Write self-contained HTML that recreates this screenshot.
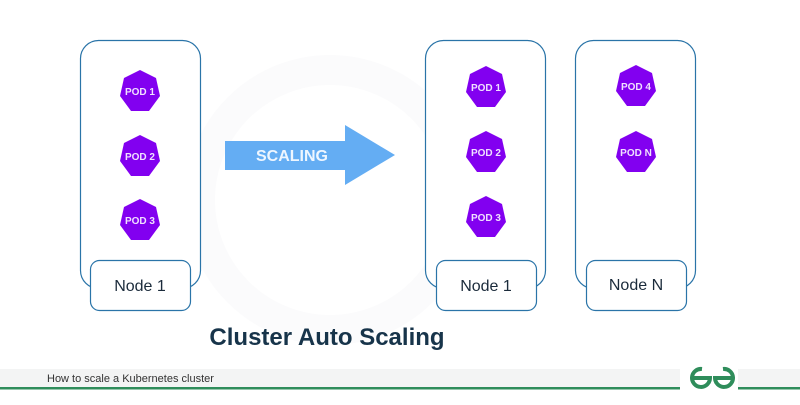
<!DOCTYPE html>
<html><head><style>
body{margin:0;width:800px;height:400px;background:#fff;overflow:hidden;font-family:"Liberation Sans",sans-serif}
</style></head><body>
<svg width="800" height="400" xmlns="http://www.w3.org/2000/svg" font-family="Liberation Sans, sans-serif">
<defs>
<polygon id="hep" points="0,-21 16,-13 20,5 9,20 -9,20 -20,5 -16,-13" fill="#8200f0"/>
</defs>
<circle cx="330" cy="200" r="130" fill="none" stroke="#fbfbfc" stroke-width="30"/>
<rect x="80.5" y="40.5" width="120" height="248" rx="18" fill="#fff" stroke="#2a74a8" stroke-width="1.2"/>
<rect x="425.5" y="40.5" width="120" height="248" rx="18" fill="#fff" stroke="#2a74a8" stroke-width="1.2"/>
<rect x="575.5" y="40.5" width="120" height="248" rx="18" fill="#fff" stroke="#2a74a8" stroke-width="1.2"/>
<rect x="90.5" y="260.5" width="100" height="50" rx="9" fill="#fff" stroke="#2a74a8" stroke-width="1.2"/>
<rect x="436.5" y="260.5" width="100" height="50" rx="9" fill="#fff" stroke="#2a74a8" stroke-width="1.2"/>
<rect x="586.5" y="260.5" width="100" height="50" rx="9" fill="#fff" stroke="#2a74a8" stroke-width="1.2"/>
<g font-size="16" fill="#1b2b3b" text-anchor="middle">
<text x="140" y="291">Node 1</text>
<text x="486" y="291">Node 1</text>
<text x="636" y="290">Node N</text>
</g>
<g font-size="10" font-weight="bold" fill="#f0e0ff" text-anchor="middle">
<use href="#hep" x="140" y="91"/><text x="140" y="95">POD 1</text>
<use href="#hep" x="140" y="156"/><text x="140" y="160">POD 2</text>
<use href="#hep" x="140" y="220"/><text x="140" y="224">POD 3</text>
<use href="#hep" x="486" y="87"/><text x="486" y="91">POD 1</text>
<use href="#hep" x="486" y="152"/><text x="486" y="156">POD 2</text>
<use href="#hep" x="486" y="217"/><text x="486" y="221">POD 3</text>
<use href="#hep" x="636" y="86"/><text x="636" y="90">POD 4</text>
<use href="#hep" x="636" y="152"/><text x="636" y="156">POD N</text>
</g>
<polygon points="225,141 345,141 345,125 395,155 345,185 345,170 225,170" fill="#64adf3"/>
<text x="292" y="161" font-size="16" font-weight="bold" fill="#eef6ff" text-anchor="middle">SCALING</text>
<text x="327" y="345" font-size="24" font-weight="bold" fill="#17344a" text-anchor="middle">Cluster Auto Scaling</text>
<rect x="0" y="369" width="800" height="18" fill="#f3f4f4"/>
<text x="47" y="382" font-size="11" fill="#333">How to scale a Kubernetes cluster</text>
<rect x="0" y="387" width="680" height="2.5" fill="#2f8d5b"/>
<rect x="738" y="387" width="62" height="2.5" fill="#2f8d5b"/>
<rect x="680" y="365" width="58" height="35" fill="#fff"/>
<g fill="none" stroke="#2f8d5b" stroke-width="4">
<path d="M693,378 H710 A9,9 0 1 1 702,369"/>
<path d="M732,378 H715 A9,9 0 1 0 723,369"/>
</g>
</svg>
</body></html>
